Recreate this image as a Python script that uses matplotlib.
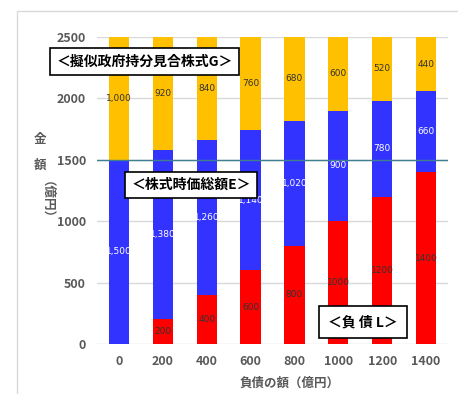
import numpy as np
import matplotlib
matplotlib.use("Agg")
import matplotlib.pyplot as plt

plt.rcParams["font.family"] = ["Noto Sans CJK JP", "DejaVu Sans"]

categories = ["0", "200", "400", "600", "800", "1000", "1200", "1400"]
liability = [0, 200, 400, 600, 800, 1000, 1200, 1400]
equity = [1500, 1380, 1260, 1140, 1020, 900, 780, 660]
gov_share = [1000, 920, 840, 760, 680, 600, 520, 440]
ref_level = 1500

RED = "#FF0000"
BLUE = "#3333FF"
YELLOW = "#FFC000"
TICK_GRAY = "#595959"

fig = plt.figure(figsize=(4.58, 3.94), dpi=100)
# light outer frame
frame = plt.Rectangle((17 / 458, -0.05), 1.1, 1 - 11 / 394 + 0.05, transform=fig.transFigure,
                      fill=False, edgecolor="#d9d9d9", linewidth=1.0)
fig.patches.append(frame)

ax = fig.add_axes([97 / 458, 1 - 344 / 394, 351 / 458, 307 / 394])

x = np.arange(len(categories))
w = 0.46
liab = np.array(liability)
eq = np.array(equity)
gv = np.array(gov_share)

ax.bar(x, liab, w, color=RED, zorder=2)
ax.bar(x, eq, w, bottom=liab, color=BLUE, zorder=2)
ax.bar(x, gv, w, bottom=liab + eq, color=YELLOW, zorder=2)

lab_kw = dict(ha="center", va="center", fontsize=6.5, zorder=4, family=["DejaVu Sans"])
for i in range(len(x)):
    if liab[i] > 0:
        ax.text(x[i], liab[i] / 2, f"{liab[i]}", color="#333333", **lab_kw)
    ax.text(x[i], liab[i] + eq[i] / 2, f"{eq[i]:,}", color="white", **lab_kw)
    ax.text(x[i], liab[i] + eq[i] + gv[i] / 2, f"{gv[i]:,}", color="#333333", **lab_kw)

ax.axhline(ref_level, color="#3f7f8f", linewidth=1.0, zorder=3)

ax.set_xlim(-0.5, len(x) - 0.5)
ax.set_ylim(0, 2500)
ax.set_yticks([0, 500, 1000, 1500, 2000, 2500])
ax.set_xticks(x)
ax.set_xticklabels(categories)
ax.grid(axis="y", color="#d9d9d9", linewidth=1.0, zorder=0)
for s in ax.spines.values():
    s.set_visible(False)
ax.tick_params(length=0, labelsize=9, labelcolor=TICK_GRAY, pad=8)
for t in ax.get_xticklabels() + ax.get_yticklabels():
    t.set_fontweight("bold")

box = dict(boxstyle="square,pad=0.45", facecolor="white", edgecolor="black", linewidth=1.2)
ax.text(0.59, 2300, "＜擬似政府持分見合株式G＞", ha="center", va="center", fontsize=10,
        fontweight="bold", bbox=box, zorder=5)
ax.text(1.64, 1293, "＜株式時価総額E＞", ha="center", va="center", fontsize=10,
        fontweight="bold", bbox=box, zorder=5)
box_l = dict(boxstyle="square,pad=0.65", facecolor="white", edgecolor="black", linewidth=1.2)
ax.text(5.57, 179, "＜負 債 L＞", ha="center", va="center", fontsize=10,
        fontweight="bold", bbox=box_l, zorder=5)

# vertical y label
fig.text(40 / 458, 1 - 140 / 394, "金", ha="center", va="center", fontsize=9,
         fontweight="bold", color=TICK_GRAY)
fig.text(40 / 458, 1 - 165 / 394, "額", ha="center", va="center", fontsize=9,
         fontweight="bold", color=TICK_GRAY)
fig.text(40 / 458, 1 - 206 / 394, "（億円）", ha="center", va="center", fontsize=9,
         fontweight="bold", color=TICK_GRAY, rotation=-90)

fig.text(290 / 458, 1 - 383 / 394, "負債の額（億円）", ha="center", va="center", fontsize=9,
         fontweight="bold", color=TICK_GRAY)

fig.savefig("out.png", dpi=100)
